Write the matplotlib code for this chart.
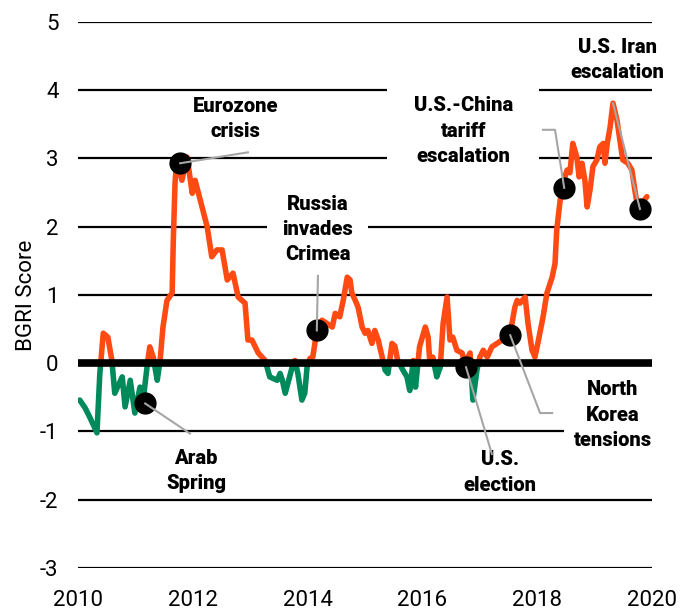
import numpy as np
import matplotlib
matplotlib.use('Agg')
import matplotlib.pyplot as plt

# BGRI score (decimal years)
years = [2010.03, 2010.12, 2010.21, 2010.33, 2010.38, 2010.44, 2010.52, 2010.59, 2010.64, 2010.77,
         2010.82, 2010.91, 2010.99, 2011.08, 2011.13, 2011.20, 2011.25, 2011.31, 2011.38, 2011.43,
         2011.48, 2011.55, 2011.64, 2011.66, 2011.69, 2011.72, 2011.81, 2011.90, 2011.99, 2012.04,
         2012.13, 2012.25, 2012.33, 2012.42, 2012.51, 2012.60, 2012.70, 2012.79, 2012.91, 2012.96,
         2013.03, 2013.14, 2013.26, 2013.34, 2013.47, 2013.52, 2013.56, 2013.61, 2013.73, 2013.78,
         2013.83, 2013.90, 2013.95, 2013.99, 2014.04, 2014.09, 2014.16, 2014.25, 2014.34, 2014.43,
         2014.48, 2014.56, 2014.62, 2014.69, 2014.74, 2014.77, 2014.83, 2014.88, 2014.95, 2015.00,
         2015.05, 2015.12, 2015.17, 2015.23, 2015.30, 2015.35, 2015.40, 2015.47, 2015.52, 2015.57,
         2015.66, 2015.73, 2015.78, 2015.84, 2015.88, 2015.95, 2016.02, 2016.05, 2016.10, 2016.13,
         2016.18, 2016.25, 2016.31, 2016.36, 2016.43, 2016.48, 2016.53, 2016.60, 2016.69, 2016.74,
         2016.83, 2016.88, 2016.95, 2017.00, 2017.06, 2017.13, 2017.21, 2017.30, 2017.39, 2017.49,
         2017.56, 2017.61, 2017.65, 2017.70, 2017.79, 2017.84, 2017.91, 2017.96, 2018.01, 2018.10,
         2018.17, 2018.26, 2018.31, 2018.34, 2018.40, 2018.45, 2018.52, 2018.57, 2018.62, 2018.69,
         2018.73, 2018.78, 2018.83, 2018.87, 2018.92, 2018.97, 2019.04, 2019.09, 2019.15, 2019.18,
         2019.22, 2019.27, 2019.32, 2019.39, 2019.44, 2019.49, 2019.58, 2019.65, 2019.70, 2019.76,
         2019.83, 2019.91]
bgri = [-0.54, -0.65, -0.80, -1.02, -0.15, 0.44, 0.38, 0.04, -0.44, -0.20,
        -0.64, -0.25, -0.73, -0.35, -0.58, -0.06, 0.24, 0.09, -0.25, 0.04,
        0.53, 0.92, 1.03, 1.80, 2.64, 2.98, 2.68, 3.02, 2.49, 2.68,
        2.39, 2.00, 1.56, 1.66, 1.66, 1.22, 1.32, 0.97, 0.88, 0.34,
        0.34, 0.15, 0.04, -0.20, -0.25, -0.15, -0.25, -0.44, -0.06, 0.04,
        -0.15, -0.54, -0.44, -0.06, 0.07, 0.09, 0.48, 0.63, 0.58, 0.53,
        0.73, 0.68, 0.92, 1.26, 1.22, 1.03, 0.92, 0.82, 0.53, 0.44,
        0.48, 0.29, 0.48, 0.34, 0.09, -0.10, -0.15, 0.29, 0.25, 0.04,
        -0.10, -0.20, -0.40, 0.04, -0.35, 0.24, 0.44, 0.53, 0.38, 0.00,
        0.09, -0.20, -0.06, 0.58, 0.97, 0.34, 0.38, 0.19, 0.15, 0.00,
        0.15, -0.54, -0.10, 0.09, 0.19, 0.09, 0.24, 0.29, 0.34, 0.44,
        0.58, 0.82, 0.92, 0.88, 0.97, 0.58, 0.19, 0.09, 0.29, 0.67,
        1.03, 1.26, 1.46, 1.95, 2.39, 2.64, 2.83, 2.79, 3.22, 3.02,
        2.73, 2.93, 2.68, 2.29, 2.54, 2.88, 2.98, 3.17, 3.22, 2.93,
        3.22, 3.46, 3.81, 3.56, 3.27, 2.98, 2.93, 2.83, 2.54, 2.24,
        2.35, 2.44]

event_labels = ['Arab\nSpring', 'Eurozone\ncrisis', 'Russia\ninvades\nCrimea', 'U.S.\nelection',
                'North\nKorea\ntensions', 'U.S.-China\ntariff\nescalation', 'U.S. Iran\nescalation']
event_years = [2011.17, 2011.78, 2014.16, 2016.76, 2017.53, 2018.47, 2019.79]
event_scores = [-0.59, 2.93, 0.48, -0.06, 0.41, 2.57, 2.26]

y_ticks = [-3, -2, -1, 0, 1, 2, 3, 4, 5]
x_ticks = [2010, 2012, 2014, 2016, 2018, 2020]

ORANGE = '#ff4a14'
GREEN = '#008a5c'
GREY = '#a6a6a6'

plt.rcParams['font.family'] = ['Roboto', 'DejaVu Sans']
plt.rcParams['axes.unicode_minus'] = False


def split_sign(x, y):
    xs, ys = [x[0]], [y[0]]
    for i in range(1, len(x)):
        if y[i - 1] * y[i] < 0:
            t = y[i - 1] / (y[i - 1] - y[i])
            xs.append(x[i - 1] + t * (x[i] - x[i - 1]))
            ys.append(0.0)
        xs.append(x[i])
        ys.append(y[i])
    xs, ys = np.array(xs), np.array(ys)
    return xs, np.where(ys >= 0, ys, np.nan), np.where(ys <= 0, ys, np.nan)


fig = plt.figure(figsize=(6.88, 6.10), dpi=100)
ax = fig.add_axes([0.1134, 0.0689, 0.8343, 0.8951])

for y in y_ticks:
    if y != 0:
        ax.axhline(y, color='black', lw=1.6, zorder=1)
ax.axhline(0, color='black', lw=5.5, zorder=4, solid_capstyle='butt')

xs, pos, neg = split_sign(years, bgri)
ax.plot(xs, pos, color=ORANGE, lw=4.0, zorder=3, solid_capstyle='round', solid_joinstyle='round')
ax.plot(xs, neg, color=GREEN, lw=4.0, zorder=3, solid_capstyle='round', solid_joinstyle='round')

ax.plot(event_years, event_scores, 'o', color='black', ms=15, zorder=6)

# connectors: one list of points per event, in order of event_labels
connectors = [
    [(2011.17, -0.59), (2011.95, -1.03)],
    [(2011.78, 2.93), (2012.96, 3.09)],
    [(2014.16, 0.48), (2014.18, 1.28)],
    [(2016.76, -0.06), (2017.21, -1.33)],
    [(2017.53, 0.41), (2018.05, -0.73), (2018.26, -0.73)],
    [(2018.47, 2.57), (2018.31, 3.42), (2018.10, 3.42)],
    [(2019.32, 3.81), (2019.79, 2.26)],
]
for pts in connectors:
    cx, cy = zip(*pts)
    ax.plot(cx, cy, color=GREY, lw=1.5, zorder=7)

label_pos = [(2012.06, -1.58), (2012.75, 3.58), (2014.18, 1.96), (2017.35, -1.60),
             (2019.32, -0.76), (2016.71, 3.40), (2019.39, 4.44)]
boxed = {2: 0.75, 4: 0.5, 5: 1.3}
for i, (lab, (lx, ly)) in enumerate(zip(event_labels, label_pos)):
    kw = {}
    if i in boxed:
        kw['bbox'] = dict(boxstyle='square,pad=%s' % boxed[i], facecolor='white', edgecolor='none')
    ax.text(lx, ly, lab, ha='center', va='center', fontsize=14.5, fontweight='heavy',
            linespacing=1.42, zorder=2, **kw)

ax.set_xlim(2010, 2020)
ax.set_ylim(-3, 5)
ax.set_xticks(x_ticks)
ax.set_yticks(y_ticks)
ax.tick_params(length=0, labelsize=16, pad=14)
ax.tick_params(axis='x', pad=16)
for s in ax.spines.values():
    s.set_visible(False)
ax.set_ylabel('BGRI Score', fontsize=16, labelpad=2)

fig.savefig('out.png', dpi=100)
